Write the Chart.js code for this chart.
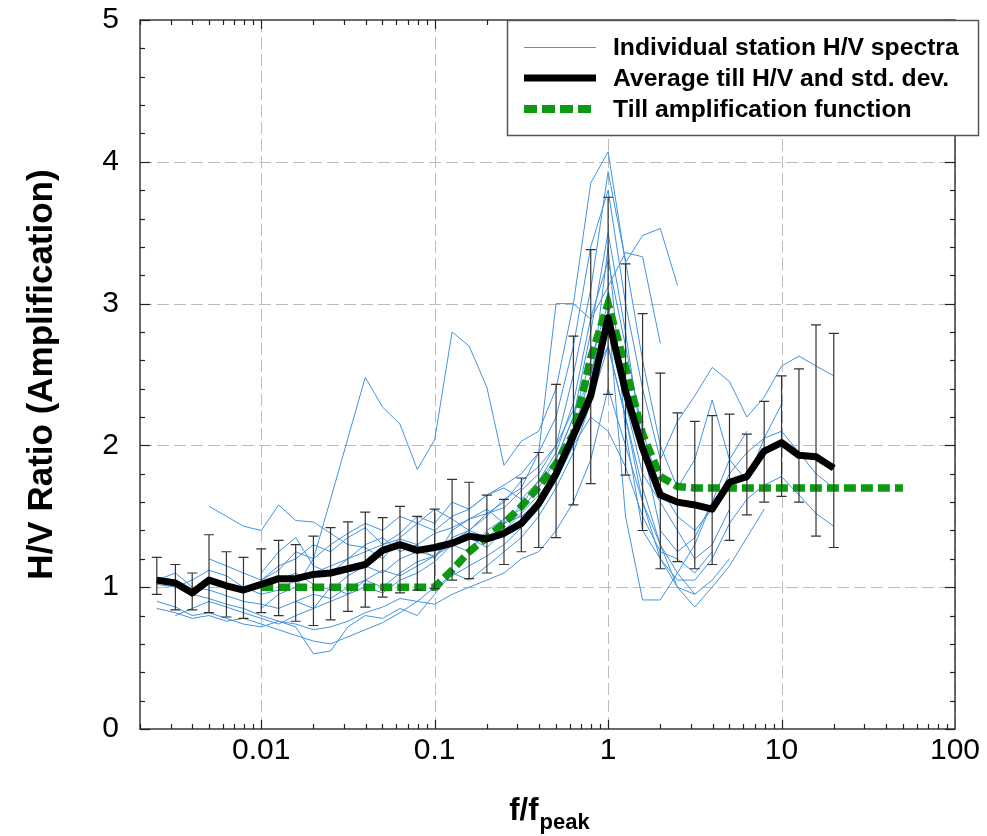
<!DOCTYPE html>
<html><head><meta charset="utf-8">
<script src="https://cdn.jsdelivr.net/npm/chart.js@4.4.0/dist/chart.umd.min.js"></script>
<style>html,body{margin:0;padding:0;background:#fff;}#wrap{width:987px;height:836px;}</style>
</head><body><div id="wrap"><canvas id="c" width="987" height="836"></canvas></div>
<script>
const N = null;
// f/f_peak sample positions
const freq = [0.0025,0.0032,0.004,0.005,0.0063,0.0079,0.01,0.0126,0.0158,0.02,0.0251,0.0316,0.0398,0.0501,0.0631,0.0794,0.1,0.126,0.158,0.2,0.251,0.316,0.398,0.501,0.631,0.794,1,1.26,1.58,2,2.51,3.16,3.98,5.01,6.31,7.94,10,12.6,15.8,20];
// average till H/V and std. dev. limits
const avgHV   = [1.05,1.03,0.96,1.05,1.01,0.98,1.02,1.06,1.06,1.09,1.10,1.13,1.16,1.26,1.30,1.26,1.28,1.31,1.36,1.34,1.38,1.45,1.59,1.80,2.07,2.35,2.90,2.38,1.98,1.65,1.60,1.58,1.55,1.74,1.78,1.96,2.02,1.93,1.92,1.84];
const stdLow  = [0.95,0.84,0.84,0.82,0.79,0.78,0.82,0.80,0.76,0.73,0.77,0.83,0.86,0.93,0.96,0.98,0.99,1.05,1.06,1.10,1.16,1.25,1.28,1.35,1.58,1.73,2.36,1.79,1.40,1.13,1.18,1.13,1.16,1.33,1.51,1.60,1.64,1.60,1.36,1.28];
const stdHigh = [1.21,1.16,1.10,1.37,1.25,1.21,1.27,1.33,1.30,1.36,1.42,1.46,1.53,1.49,1.57,1.50,1.55,1.76,1.74,1.65,1.62,1.77,1.95,2.43,2.77,3.38,3.75,3.28,2.93,2.51,2.23,2.17,2.21,2.22,2.08,2.31,2.49,2.54,2.85,2.79];
// till amplification function
const ampFreq = [0.01,0.0126,0.0158,0.02,0.0251,0.0316,0.0398,0.0501,0.0631,0.0794,0.1,0.126,0.158,0.2,0.251,0.316,0.398,0.501,0.631,0.794,1,1.26,1.58,2,2.51,3.16,3.98,5.01,6.31,7.94,10,12.6,15.8,20,25.1,31.6,39.8,50.1];
const ampHV   = [1,1,1,1,1,1,1,1,1,1,1,1.12,1.25,1.35,1.45,1.57,1.71,1.87,2.08,2.62,3.0,2.55,2.08,1.78,1.71,1.70,1.70,1.70,1.70,1.70,1.70,1.70,1.70,1.70,1.70,1.70,1.70,1.70];
// individual station H/V spectra
const st01 = [0.90,0.86,0.80,0.82,0.78,0.74,0.72,0.76,0.74,0.70,0.72,0.76,0.82,0.86,0.92,0.90,1.00,1.08,1.15,1.22,1.30,1.42,1.55,1.75,2.00,2.40,3.40,2.10,1.40,1.20,1.05,1.05,1.20,1.45,1.62,1.72,1.78,1.65,1.52,1.43];
const st02 = [1.02,1.00,1.05,1.12,1.08,1.00,0.95,0.98,1.05,1.10,1.15,1.20,1.25,1.30,1.34,1.30,1.38,1.42,1.48,1.52,1.56,1.68,1.80,2.00,2.50,3.10,3.93,3.30,2.60,2.00,1.70,1.90,2.32,1.90,1.75,2.05,2.29,N,N,N];
const st03 = [N,N,N,1.57,1.50,1.43,1.40,1.58,1.47,1.46,1.38,1.30,1.28,1.20,1.35,1.45,1.40,1.50,1.55,1.65,1.72,1.80,1.95,2.20,2.70,3.40,3.80,3.00,2.40,1.90,2.17,2.35,2.55,2.45,2.20,2.34,2.56,2.63,2.56,2.49];
const st04 = [N,N,N,N,N,N,0.85,0.95,1.00,1.20,1.62,2.05,2.48,2.27,2.15,1.83,2.04,2.80,2.70,2.41,1.86,2.03,2.10,2.40,3.00,3.85,4.07,3.29,3.48,3.53,3.13,N,N,N,N,N,N,N,N,N];
const st05 = [N,N,N,N,N,N,1.00,1.05,1.10,1.02,0.98,1.08,1.15,1.10,1.20,1.25,1.22,1.35,1.40,1.50,1.62,1.70,1.95,3.00,3.00,2.89,3.12,3.36,3.33,2.72,N,N,N,N,N,N,N,N,N,N];
const st06 = [N,N,0.95,0.92,0.88,0.85,0.80,0.76,0.72,0.53,0.55,0.72,0.80,0.78,0.85,0.80,0.95,1.10,1.05,1.15,1.25,1.35,1.50,1.70,1.95,2.30,2.70,2.20,1.60,1.30,1.00,0.86,1.00,1.15,1.35,1.55,N,N,N,N];
const st07 = [1.05,1.10,1.00,0.98,0.94,0.90,0.88,0.85,0.90,0.95,0.92,1.00,1.05,1.12,1.08,1.15,1.22,1.30,1.25,1.40,1.48,1.55,1.70,1.90,2.20,2.80,3.50,2.80,2.00,1.40,1.25,1.35,1.60,1.75,N,N,N,N,N,N];
const st08 = [N,0.80,0.85,0.90,0.86,0.82,0.78,0.74,0.80,0.85,0.90,0.95,1.00,0.96,1.05,1.10,1.18,1.30,1.35,1.28,1.40,1.52,1.65,1.80,2.10,2.50,2.95,1.50,0.91,0.91,1.10,1.30,1.60,1.90,2.10,N,N,N,N,N];
const st09 = [N,N,N,N,N,N,1.05,1.15,1.20,1.30,1.25,1.35,1.42,1.30,1.38,1.50,1.45,1.60,1.55,1.65,1.70,1.62,1.75,1.90,2.20,2.60,3.00,2.30,1.80,1.60,1.40,1.20,1.30,1.55,N,N,N,N,N,N];
const st10 = [N,N,N,1.20,1.15,1.10,1.05,1.12,1.25,1.20,1.30,1.38,1.45,1.40,1.50,1.45,1.55,1.48,1.40,1.35,1.45,1.50,1.60,1.80,2.00,2.20,2.10,1.85,1.50,1.25,1.20,1.10,1.25,N,N,N,N,N,N,N];
const st11 = [0.85,0.82,0.78,0.80,0.76,0.78,0.74,0.70,0.66,0.62,0.60,0.65,0.70,0.75,0.82,0.90,0.88,0.95,1.00,1.05,1.10,1.20,1.25,1.40,1.60,1.90,2.40,2.00,1.60,1.20,1.00,0.95,N,N,N,N,N,N,N,N];
const st12 = [N,N,N,N,N,N,1.10,1.25,1.35,1.15,1.10,1.20,1.30,1.35,1.25,1.30,1.20,1.40,1.48,1.55,1.45,1.58,1.75,1.95,2.30,2.90,3.30,2.70,2.10,1.70,1.50,1.40,1.55,1.80,1.95,2.05,2.10,1.95,1.80,1.70];
const st13 = [N,N,N,N,N,N,N,N,0.90,0.85,1.00,0.95,1.05,1.00,1.10,1.18,1.22,1.32,1.40,1.52,1.60,1.75,1.85,2.00,2.25,2.45,2.70,2.20,1.70,1.30,1.10,0.95,1.05,1.20,N,N,N,N,N,N];
const stations = [st01,st02,st03,st04,st05,st06,st07,st08,st09,st10,st11,st12,st13];
// ticks and labels
const xTickValues = [0.01,0.1,1,10,100];
const xTickLabels = ['0.01','0.1','1','10','100'];
const yTickLabels = ['0','1','2','3','4','5'];
const legendLabels = ['Individual station H/V spectra','Average till H/V and std. dev.','Till amplification function'];
const xTitleMain = 'f/f', xTitleSub = 'peak';
const yTitle = 'H/V Ratio (Amplification)';

const FONT = "'Liberation Sans', Arial, Helvetica, sans-serif";
const BLUE = '#4293e2', GREEN = '#0d9a12';

const toPts = (xs, ys) => xs.map((f,i)=>({x:f,y:ys[i]})).filter(p=>p.y!==null);

const datasets = [];
datasets.push({label: legendLabels[1], data: toPts(freq, avgHV), borderColor:'#000', borderWidth:7, order:0, borderJoinStyle:'round', borderCapStyle:'butt'});
datasets.push({label: legendLabels[2], data: toPts(ampFreq, ampHV), borderColor:GREEN, borderWidth:7.5, borderDash:[12,5], order:1, borderCapStyle:'butt'});
stations.forEach((s,k)=>datasets.push({label: legendLabels[0], data: toPts(freq, s), borderColor:BLUE, borderWidth:1, order:2+k}));

const decor = {
  id:'decor',
  beforeDatasetsDraw(chart){
    const {ctx, chartArea:a, scales:{x,y}} = chart;
    ctx.save();
    ctx.strokeStyle = '#bcbcbc'; ctx.lineWidth = 1; ctx.setLineDash([12,5]);
    xTickValues.forEach(v=>{ const px=Math.round(x.getPixelForValue(v))+0.5; ctx.beginPath(); ctx.moveTo(px,a.bottom); ctx.lineTo(px,a.top); ctx.stroke(); });
    for (let v=1; v<=4; v++){ const py=Math.round(y.getPixelForValue(v))+0.5; ctx.beginPath(); ctx.moveTo(a.left,py); ctx.lineTo(a.right,py); ctx.stroke(); }
    ctx.restore();
  },
  beforeDatasetDraw(chart, args){
    if (args.index !== 0) return;
    const {ctx, scales:{x,y}} = chart;
    ctx.save();
    ctx.strokeStyle = '#333'; ctx.lineWidth = 1.2;
    freq.forEach((f,i)=>{
      const px = x.getPixelForValue(f), y1 = y.getPixelForValue(stdLow[i]), y2 = y.getPixelForValue(stdHigh[i]);
      ctx.beginPath();
      ctx.moveTo(px,y1); ctx.lineTo(px,y2);
      ctx.moveTo(px-5,y1); ctx.lineTo(px+5,y1);
      ctx.moveTo(px-5,y2); ctx.lineTo(px+5,y2);
      ctx.stroke();
    });
    ctx.restore();
  },
  afterDatasetsDraw(chart){
    const {ctx, chartArea:a, scales:{x,y}} = chart;
    ctx.save();
    ctx.strokeStyle = '#3a3a3a'; ctx.lineWidth = 1.5;
    ctx.strokeRect(a.left, a.top, a.right-a.left, a.bottom-a.top);
    ctx.lineWidth = 1.2; ctx.strokeStyle = '#222';
    const tick = (x1,y1,x2,y2)=>{ctx.beginPath();ctx.moveTo(x1,y1);ctx.lineTo(x2,y2);ctx.stroke();};
    for (let k=-3;k<=1;k++){
      for (let m=1;m<=9;m++){
        const v = m*Math.pow(10,k);
        if (v < x.min*0.999 || v > x.max*1.001) continue;
        const px = Math.round(x.getPixelForValue(v))+0.5;
        const len = m===1 ? 9 : 5;
        tick(px,a.bottom,px,a.bottom-len); tick(px,a.top,px,a.top+len);
      }
    }
    for (let j=0;j<=25;j++){
      const v = j*0.2, py = Math.round(y.getPixelForValue(v))+0.5;
      const len = (j%5===0) ? 10 : 5;
      tick(a.left,py,a.left+len,py); tick(a.right,py,a.right-len,py);
    }
    // legend
    const L = {x:507, y:a.top, w:471, h:115};
    ctx.fillStyle = '#fff'; ctx.fillRect(L.x, L.y, L.w, L.h);
    ctx.strokeStyle = '#555'; ctx.lineWidth = 1.5; ctx.strokeRect(L.x+0.5, L.y+0.5, L.w, L.h);
    const rows = [L.y+27, L.y+58, L.y+89];
    ctx.lineCap = 'butt';
    ctx.strokeStyle = BLUE; ctx.lineWidth = 1; ctx.beginPath(); ctx.moveTo(524,rows[0]+0.5); ctx.lineTo(596,rows[0]+0.5); ctx.stroke();
    ctx.strokeStyle = '#000'; ctx.lineWidth = 7; ctx.beginPath(); ctx.moveTo(524,rows[1]); ctx.lineTo(596,rows[1]); ctx.stroke();
    ctx.strokeStyle = GREEN; ctx.lineWidth = 8; ctx.setLineDash([13,5]); ctx.beginPath(); ctx.moveTo(524,rows[2]); ctx.lineTo(596,rows[2]); ctx.stroke();
    ctx.setLineDash([]);
    ctx.fillStyle = '#000'; ctx.font = 'bold 24.7px ' + FONT; ctx.textAlign='left'; ctx.textBaseline='middle';
    legendLabels.forEach((t,i)=>ctx.fillText(t, 613, rows[i]+1));
    // y title
    ctx.save();
    ctx.translate(42, (a.top+a.bottom)/2); ctx.rotate(-Math.PI/2);
    ctx.font = 'bold 35px ' + FONT; ctx.textAlign='center'; ctx.textBaseline='middle';
    ctx.fillText(yTitle, 0, 0);
    ctx.restore();
    // x title with subscript
    ctx.font = 'bold 31px ' + FONT;
    const w1 = ctx.measureText(xTitleMain).width;
    ctx.font = 'bold 22px ' + FONT;
    const w2 = ctx.measureText(xTitleSub).width;
    const cx = 549, sx = cx - (w1+w2)/2;
    ctx.textAlign='left'; ctx.textBaseline='alphabetic';
    ctx.font = 'bold 31px ' + FONT; ctx.fillText(xTitleMain, sx, 820);
    ctx.font = 'bold 22px ' + FONT; ctx.fillText(xTitleSub, sx+w1+1, 829);
    ctx.restore();
  }
};

new Chart(document.getElementById('c'), {
  type:'line',
  data:{datasets},
  options:{
    responsive:false, animation:false, devicePixelRatio:1,
    layout:{padding:{top:20, right:32, left:0, bottom:0}},
    elements:{point:{radius:0, hoverRadius:0}, line:{tension:0, fill:false}},
    plugins:{legend:{display:false}, tooltip:{enabled:false}},
    scales:{
      x:{type:'logarithmic', min:0.002, max:100, position:'bottom',
        afterBuildTicks:s=>{ s.ticks = xTickValues.map(v=>({value:v})); },
        afterFit:s=>{ s.height = 107; s.paddingLeft = 0; s.paddingRight = 0; },
        grid:{display:false, drawTicks:false}, border:{display:false},
        ticks:{autoSkip:false, maxRotation:0, padding:4, color:'#000', font:{family:FONT, size:30},
          callback:(v,i)=>xTickLabels[i]}},
      y:{type:'linear', min:0, max:5, position:'left',
        afterFit:s=>{ s.width = 140; s.paddingTop = 0; s.paddingBottom = 0; },
        grid:{display:false, drawTicks:false}, border:{display:false},
        ticks:{stepSize:1, padding:21, color:'#000', font:{family:FONT, size:30},
          callback:(v)=>yTickLabels[Math.round(v)]}}
    }
  },
  plugins:[decor]
});
</script></body></html>
